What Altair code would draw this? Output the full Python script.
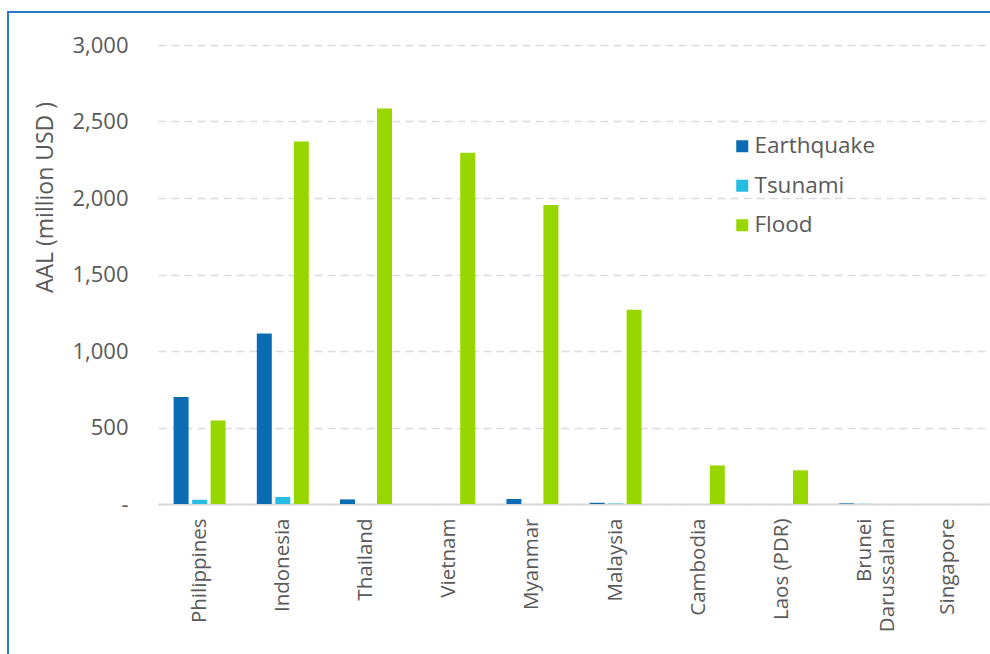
import altair as alt
import pandas as pd

countries = ["Philippines", "Indonesia", "Thailand", "Vietnam", "Myanmar",
             "Malaysia", "Cambodia", "Laos (PDR)", "Brunei Darussalam", "Singapore"]
hazards = ["Earthquake", "Tsunami", "Flood"]
earthquake = [700, 1115, 30, 0, 33, 8, 0, 0, 4, 0]
tsunami = [28, 46, 0, 0, 0, 3, 0, 0, 1, 0]
flood = [545, 2370, 2585, 2295, 1955, 1270, 252, 220, 0, 0]
colors = ["#0b6cb4", "#27bde3", "#98d600"]
y_ticks = [0, 500, 1000, 1500, 2000, 2500, 3000]

rows = []
for i, c in enumerate(countries):
    for h, vals in zip(hazards, [earthquake, tsunami, flood]):
        rows.append({"country": c, "hazard": h, "value": vals[i]})
df = pd.DataFrame(rows)

FONT = "Open Sans"
GREY = "#595959"

bars = alt.Chart(df).mark_bar().encode(
    x=alt.X("country:N", sort=countries,
            scale=alt.Scale(paddingInner=0.375, paddingOuter=0.1875),
            axis=alt.Axis(title=None, labelAngle=270, labelFont=FONT, labelFontSize=20.5,
                          labelColor=GREY, ticks=False, labelPadding=14,
                          domainColor="#d9d9d9", domainWidth=2, grid=False,
                          labelExpr="datum.label == 'Brunei Darussalam' ? ['Brunei', 'Darussalam'] : datum.label")),
    xOffset=alt.XOffset("hazard:N", sort=hazards,
                        scale=alt.Scale(paddingInner=0.19, paddingOuter=0)),
    y=alt.Y("value:Q", scale=alt.Scale(domain=[0, 3000], nice=False),
            axis=alt.Axis(values=y_ticks, domain=False, ticks=False,
                          labelFont=FONT, labelFontSize=22, labelColor=GREY, labelPadding=30,
                          labelExpr="datum.value == 0 ? '-' : format(datum.value, ',')",
                          grid=True, gridColor="#dcdcdc", gridDash=[8, 5], gridWidth=1.5,
                          title="AAL (million USD )", titleFont=FONT, titleFontSize=23,
                          titleFontWeight="normal", titleColor=GREY,
                          titleAngle=270, titleX=-113, titleY=152,
                          titleAlign="center", titleBaseline="middle")),
    color=alt.Color("hazard:N", sort=hazards,
                    scale=alt.Scale(domain=hazards, range=colors),
                    legend=alt.Legend(title=None, orient="none", legendX=573, legendY=90,
                                      padding=0, symbolType="square", symbolSize=144,
                                      symbolStrokeWidth=0, labelFont=FONT,
                                      labelFontSize=22.5, labelColor=GREY,
                                      rowPadding=16.5, labelOffset=1)),
)

border = alt.Chart(pd.DataFrame({"a": [0]})).mark_rect(
    fillOpacity=0, stroke="#2a7ac6", strokeWidth=2, clip=False
).encode(
    x=alt.value(-150), x2=alt.value(900), y=alt.value(-33), y2=alt.value(700)
)

chart = alt.layer(bars, border).properties(
    width=832, height=459,
    background="white",
    padding={"left": 158, "top": 45, "right": 0, "bottom": 150},
    autosize=alt.AutoSizeParams(type="none"),
).configure_view(stroke="transparent", strokeWidth=0)

chart.save("out.html", embed_options={"renderer": "svg", "actions": False})
